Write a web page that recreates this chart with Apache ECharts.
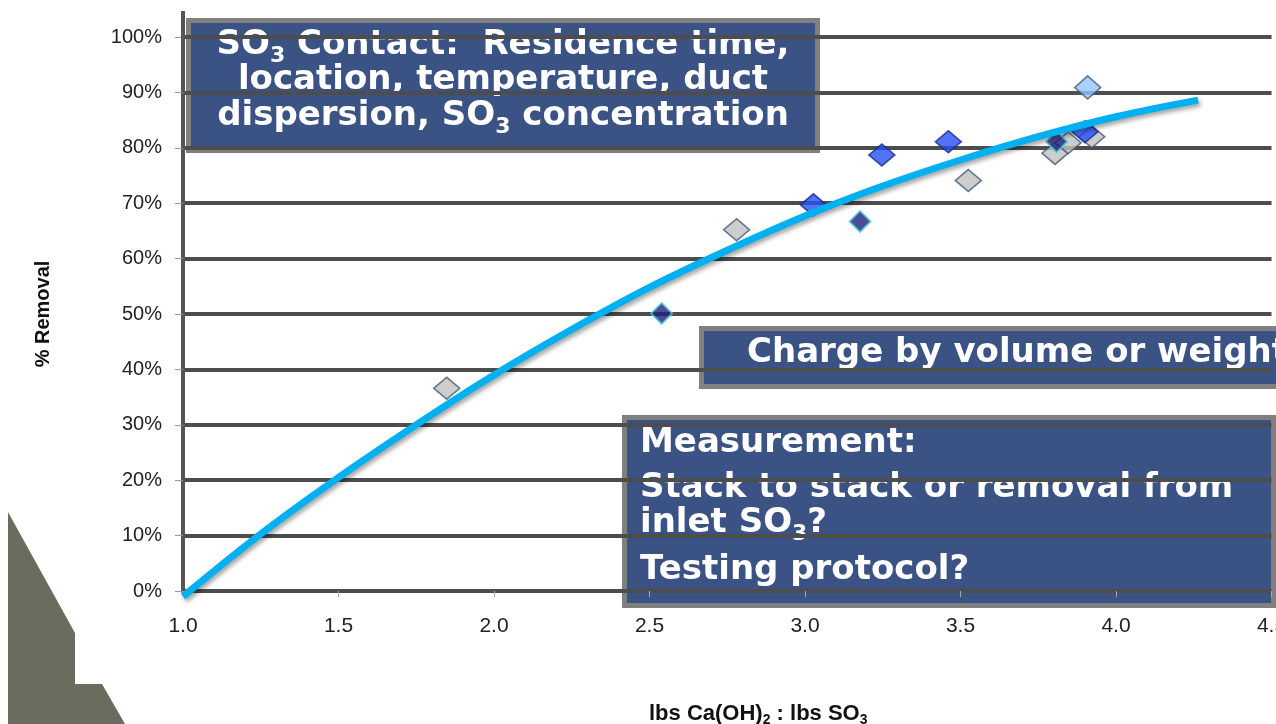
<!DOCTYPE html>
<html>
<head>
<meta charset="utf-8">
<script src="https://cdn.jsdelivr.net/npm/echarts@6/dist/echarts.min.js"></script>
<style>
html,body{margin:0;padding:0;background:#ffffff;overflow:hidden;}
#chart{width:1276px;height:724px;}
</style>
</head>
<body>
<div id="chart"></div>
<script>
// ---- data ----
const xTickValues = [1.0, 1.5, 2.0, 2.5, 3.0, 3.5, 4.0, 4.5];
const yTickLabels = ['0%','10%','20%','30%','40%','50%','60%','70%','80%','90%','100%'];

const greyPoints  = [[1.848,0.366],[2.780,0.652],[3.525,0.741],[3.804,0.790],[3.846,0.809],[3.922,0.820]];
const navyPoints  = [[2.539,0.501],[3.177,0.667],[3.809,0.811]];
const bluePoints  = [[3.027,0.697],[3.247,0.787],[3.461,0.811],[3.900,0.829]];
const lightPoints = [[3.909,0.909]];

const trendX = [1.0, 1.25, 1.5, 1.75, 2.0, 2.25, 2.5, 2.75, 3.0, 3.25, 3.5, 3.75, 4.0, 4.264];
const trendY = [-0.010, 0.103, 0.205, 0.300, 0.390, 0.472, 0.548, 0.615, 0.677, 0.731, 0.778, 0.820, 0.856, 0.886];

const box1Lines = ['{m|SO}{s|3}{m| Contact:  Residence time,}', '{m|location, temperature, duct}', '{m|dispersion, SO}{s|3}{m| concentration}'];
const box2Text = '{m|Charge by volume or weight}';
const box3Lines = ['{m|Measurement:}', '{m|Stack to stack or removal from}', '{m|inlet SO}{s|3}{m|?}', '{m|Testing protocol?}'];

// ---- chart ----
const chart = echarts.init(document.getElementById('chart'), null, {renderer: 'canvas'});

const BOX_FILL = '#3b5284';
const BOX_STROKE = '#808080';
const BOX_FONT = '"DejaVu Sans", Verdana, sans-serif';

function boxText(x, y, text, align) {
  return {
    type: 'text', z: 1, x: x, y: y,
    style: {
      text: text, fill: '#ffffff', font: 'bold 34px ' + BOX_FONT,
      textAlign: align, textVerticalAlign: 'middle',
      rich: {
        m: { fontSize: 34, fontWeight: 'bold', fontFamily: BOX_FONT, fill: '#ffffff', lineHeight: 44 },
        s: { fontSize: 22, fontWeight: 'bold', fontFamily: BOX_FONT, fill: '#ffffff', lineHeight: 18, verticalAlign: 'bottom' }
      }
    }
  };
}

const graphics = [
  // slide decoration bottom-left
  { type: 'polygon', z: 0,
    shape: { points: [[8,512],[75,633],[75,684],[102,684],[125,724],[8,724]] },
    style: { fill: '#6b6b5e' } },
  // y axis extension above 100%
  { type: 'line', z: 6, shape: { x1: 183, y1: 11, x2: 183, y2: 38 },
    style: { stroke: '#555555', lineWidth: 4 } },
  // box 1
  { type: 'rect', z: 1, shape: { x: 188.5, y: 20.5, width: 629, height: 130 },
    style: { fill: BOX_FILL, stroke: BOX_STROKE, lineWidth: 5 } },
  boxText(503, 45, box1Lines[0], 'center'),
  boxText(503, 80, box1Lines[1], 'center'),
  boxText(503, 116, box1Lines[2], 'center'),
  // box 2
  { type: 'rect', z: 1, shape: { x: 701.5, y: 328.5, width: 620, height: 58 },
    style: { fill: BOX_FILL, stroke: BOX_STROKE, lineWidth: 5 } },
  boxText(747, 353, box2Text, 'left'),
  // box 3
  { type: 'rect', z: 1, shape: { x: 624.5, y: 417.5, width: 649, height: 188 },
    style: { fill: BOX_FILL, stroke: BOX_STROKE, lineWidth: 5 } },
  boxText(640, 443, box3Lines[0], 'left'),
  boxText(640, 488, box3Lines[1], 'left'),
  boxText(640, 523, box3Lines[2], 'left'),
  boxText(640, 570, box3Lines[3], 'left')
];

const option = {
  animation: false,
  backgroundColor: '#ffffff',
  grid: { left: 183, right: 4.5, top: 37, bottom: 133, containLabel: false, outerBoundsMode: 'none' },
  xAxis: {
    type: 'value', min: 1.0, max: 4.5, interval: 0.5, z: 5,
    axisLine: { show: false },
    axisTick: { show: true, length: 6, lineStyle: { color: '#aaaaaa', width: 1 } },
    splitLine: { show: false },
    axisLabel: {
      fontSize: 21, color: '#222222', margin: 25,
      fontFamily: '"Liberation Sans", Arial, sans-serif',
      formatter: function (v) {
        const i = xTickValues.findIndex(t => Math.abs(t - v) < 1e-6);
        return i >= 0 ? xTickValues[i].toFixed(1) : '';
      }
    },
    name: '{a|lbs Ca(OH)}{s|2}{a| : lbs SO}{s|3}',
    nameLocation: 'middle', nameGap: 110,
    nameTextStyle: {
      padding: [0, 0, 0, 62],
      rich: {
        a: { fontSize: 22, fontWeight: 'bold', color: '#111111', lineHeight: 26,
             fontFamily: '"Liberation Sans Narrow", "Liberation Sans", Arial, sans-serif' },
        s: { fontSize: 14, fontWeight: 'bold', color: '#111111', lineHeight: 14, verticalAlign: 'bottom',
             fontFamily: '"Liberation Sans Narrow", "Liberation Sans", Arial, sans-serif' }
      }
    }
  },
  yAxis: {
    type: 'value', min: 0, max: 1, interval: 0.1, z: 5,
    axisLine: { show: true, lineStyle: { color: '#555555', width: 4 } },
    axisTick: { show: true, length: 8, lineStyle: { color: '#999999', width: 1 } },
    splitLine: { show: true, lineStyle: { color: '#4d4d4d', width: 4 } },
    axisLabel: {
      fontSize: 20, color: '#222222', margin: 21,
      fontFamily: '"Liberation Sans", Arial, sans-serif',
      formatter: function (v) { return yTickLabels[Math.round(v * 10)] || ''; }
    },
    name: '% Removal', nameLocation: 'middle', nameGap: 130, nameRotate: 90,
    nameTextStyle: { fontSize: 20, fontWeight: 'bold', color: '#111111',
      fontFamily: '"Liberation Sans Narrow", "Liberation Sans", Arial, sans-serif' }
  },
  series: [
    { name: 'grey', type: 'scatter', z: 8, data: greyPoints, symbol: 'diamond', symbolSize: [26, 22],
      itemStyle: { color: '#c0c0c0', borderColor: '#3e5b7b', borderWidth: 1.6 } },
    { name: 'navy', type: 'scatter', z: 8, data: navyPoints, symbol: 'diamond', symbolSize: [21, 21],
      itemStyle: { color: '#1f1f80', borderColor: '#45cfd2', borderWidth: 1.8 } },
    { name: 'blue', type: 'scatter', z: 8, data: bluePoints, symbol: 'diamond', symbolSize: [26, 22],
      itemStyle: { color: '#2450f5', borderColor: '#1b2a8a', borderWidth: 1.6 } },
    { name: 'light', type: 'scatter', z: 8, data: lightPoints, symbol: 'diamond', symbolSize: [26, 23],
      itemStyle: { color: '#94c4ff', borderColor: '#3e5b7b', borderWidth: 1.6 } },
    { name: 'trend', type: 'line', z: 9, smooth: 0.4, showSymbol: false, clip: false,
      data: trendX.map((x, i) => [x, trendY[i]]),
      lineStyle: { color: '#00b0f0', width: 7, cap: 'butt',
        shadowColor: 'rgba(0,0,0,0.35)', shadowBlur: 4, shadowOffsetX: 2, shadowOffsetY: 3 } }
  ],
  graphic: { elements: graphics }
};

chart.setOption(option);
</script>
</body>
</html>
